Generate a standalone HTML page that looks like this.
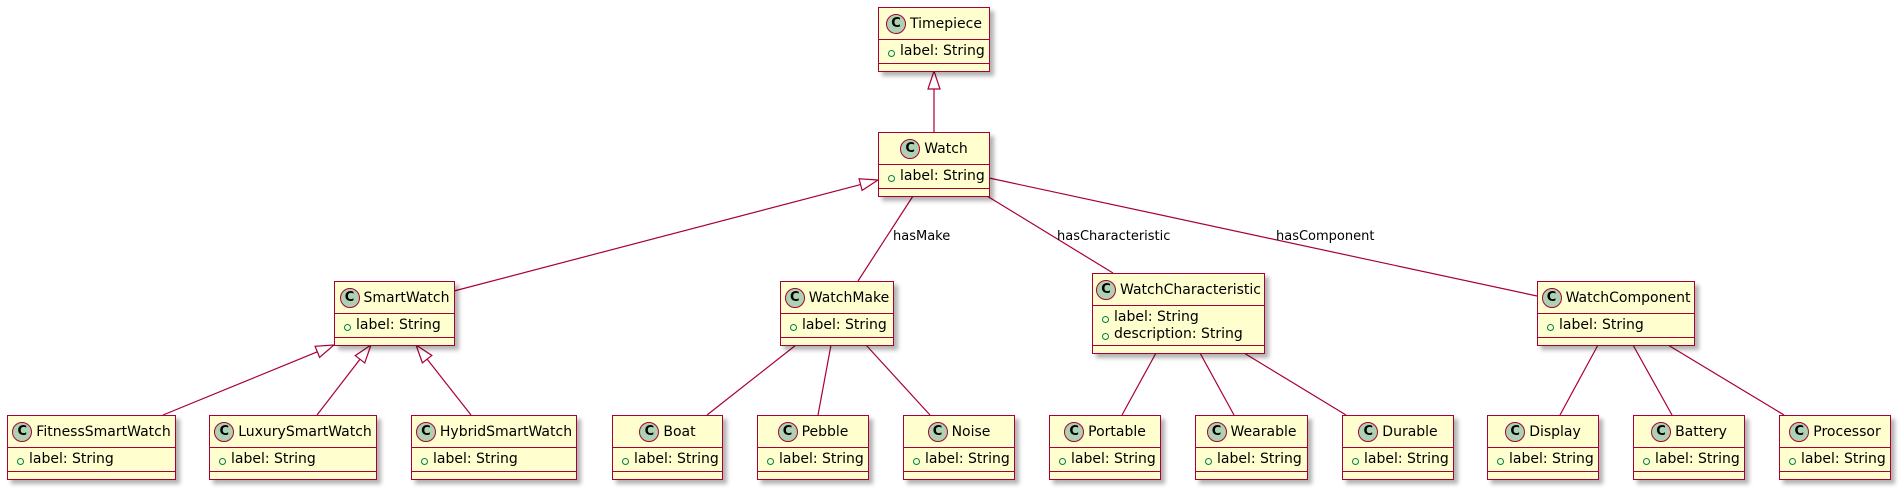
<!DOCTYPE html>
<html><head><meta charset="utf-8"><style>
body{margin:0;width:1903px;height:492px;background:#fff;position:relative;overflow:hidden;font-family:"DejaVu Sans","Liberation Sans",sans-serif;}
svg{position:absolute;left:0;top:0}
.b{position:absolute;box-sizing:border-box;background:#FEFECE;border:1.5px solid #A80036;box-shadow:4px 4px 4px rgba(0,0,0,0.3);}
.h{height:31px;display:flex;align-items:center;justify-content:center;font-size:14px;color:#000;border-bottom:1.5px solid #A80036;}
.c{width:20px;height:20px;border-radius:50%;background:#ADD1B2;border:1px solid #A80036;box-sizing:border-box;display:flex;align-items:center;justify-content:center;font-weight:bold;font-size:13px;margin-right:4px;flex:none}
.a{border-bottom:1.5px solid #A80036;font-size:14px;padding:3px 0 0 21px;position:relative;line-height:17px;box-sizing:border-box}
.a div{position:relative}
.a div:before{content:"";position:absolute;left:-12px;top:7px;width:5px;height:5px;border:1px solid #038048;border-radius:50%}
</style></head><body>
<svg width="1903" height="492" id="s"></svg>
<div id="boxes"></div>
<script>
var B=[["Timepiece",878,7,111,1],["Watch",878,132,111,1],["SmartWatch",334,281,120,1],["WatchMake",780,281,113,1],
["WatchCharacteristic",1092,273,172,2,"description: String"],["WatchComponent",1537,281,157,1],
["FitnessSmartWatch",7,415,168,1],["LuxurySmartWatch",209,415,167,1],["HybridSmartWatch",411,415,165,1],
["Boat",612,415,110,1],["Pebble",757,415,111,1],["Noise",903,415,111,1],
["Portable",1049,415,111,1],["Wearable",1195,415,112,1],["Durable",1342,415,111,1],
["Display",1487,415,111,1],["Battery",1633,415,111,1],["Processor",1779,415,111,1]];
var h="";
B.forEach(function(b){var n=b[4];var ah=n==1?24:40;var H=32+ah+8;
h+='<div class="b" style="left:'+b[1]+'px;top:'+b[2]+'px;width:'+(b[3]+1)+'px;height:'+(H+1)+'px"><div class="h"><div class="c">C</div>'+b[0]+'</div><div class="a" style="height:'+ah+'px"><div>label: String</div>'+(n==2?'<div>'+b[5]+'</div>':'')+'</div></div>';});
document.getElementById("boxes").innerHTML=h;
var s="";
function L(x1,y1,x2,y2){s+='<line x1="'+x1+'" y1="'+y1+'" x2="'+x2+'" y2="'+y2+'" stroke="#A80036" stroke-width="1.2"/>';}
function G(tx,ty,px,py){var dx=px-tx,dy=py-ty,l=Math.hypot(dx,dy);dx/=l;dy/=l;var bx=tx+dx*18,by=ty+dy*18;
L(bx,by,px,py);
s+='<polygon points="'+tx+','+ty+' '+(bx-dy*6)+','+(by+dx*6)+' '+(bx+dy*6)+','+(by-dx*6)+'" fill="#fff" stroke="#A80036" stroke-width="1.2"/>';}
function T(x,y,t){s+='<text x="'+x+'" y="'+y+'" font-size="13" font-family="DejaVu Sans,Liberation Sans,sans-serif" fill="#000">'+t+'</text>';}
G(934,71,934,132);
G(878,180,454,291);
G(334,345,163,415);G(371,345,317,415);G(416,345,471,415);
L(913,196,858,281);T(893,240,"hasMake");
L(987,196,1113,273);T(1057,240,"hasCharacteristic");
L(989,178,1537,296);T(1276,240,"hasComponent");
L(796,345,707,415);L(831,345,818,415);L(866,345,930,415);
L(1156,353,1122,415);L(1200,353,1234,415);L(1244,353,1346,415);
L(1598,345,1560,415);L(1633,345,1672,415);L(1668,345,1784,415);
document.getElementById("s").innerHTML=s;
</script>
</body></html>
